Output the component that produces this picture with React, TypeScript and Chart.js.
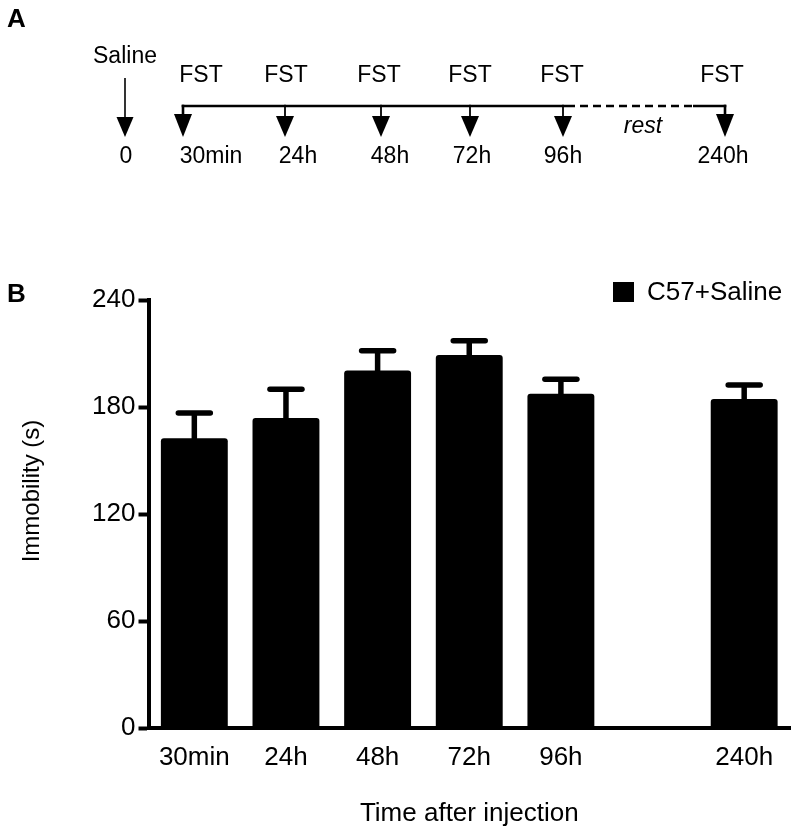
import React, { useEffect, useRef } from 'react';
import { Chart, registerables } from 'chart.js';

Chart.register(...registerables);

// ---------- Data ----------
const categories = ['30min', '24h', '48h', '72h', '96h', '', '240h'];
const immobilityMeans = [162.5, 173.8, 200.4, 209.2, 187.4, null, 184.5];
const immobilitySem = [14.1, 16.2, 11.1, 8.0, 8.1, null, 7.9];
const seriesLabel = 'C57+Saline';
const yTicks = [0, 60, 120, 180, 240];
const yTitle = 'Immobility (s)';
const xTitle = 'Time after injection';

// Panel A (protocol schematic) texts
const timelineLabels = ['30min', '24h', '48h', '72h', '96h', '240h'];
const injectionLabel = 'Saline';
const injectionTime = '0';
const testLabel = 'FST';
const restLabel = 'rest';
const panelLabels = ['A', 'B'];

// ---------- Layout / style ----------
const FONT = '"Liberation Sans", Arial, Helvetica, sans-serif';
const W = 796;
const H = 834;
const SCHEMA = {
  arrowX: [183, 285, 381, 470, 563, 725],
  fstX: [201, 286, 379, 470, 562, 722],
  timeX: [211, 298, 390, 472, 563, 723],
  salineX: 125,
  lineY: 106,
  restStart: 567,
  restEnd: 693,
};

const overlayPlugin = {
  id: 'overlay',
  afterDatasetsDraw(chart: any) {
    const { ctx } = chart;
    const meta = chart.getDatasetMeta(0);
    const y = chart.scales.y;
    ctx.save();
    ctx.strokeStyle = '#000';
    ctx.lineWidth = 5.5;
    meta.data.forEach((bar: any, i: number) => {
      const m = immobilityMeans[i];
      const s = immobilitySem[i];
      if (m == null || s == null) return;
      const yTop = y.getPixelForValue(m + s);
      const yBar = y.getPixelForValue(m);
      ctx.lineCap = 'butt';
      ctx.beginPath();
      ctx.moveTo(bar.x, yBar + 1);
      ctx.lineTo(bar.x, yTop);
      ctx.stroke();
      ctx.lineCap = 'round';
      ctx.beginPath();
      ctx.moveTo(bar.x - 16, yTop);
      ctx.lineTo(bar.x + 16, yTop);
      ctx.stroke();
    });
    ctx.restore();
  },
  afterDraw(chart: any) {
    const { ctx } = chart;
    ctx.save();
    ctx.fillStyle = '#000';
    ctx.strokeStyle = '#000';

    // Panel letters
    ctx.font = `bold 26px ${FONT}`;
    ctx.textAlign = 'left';
    ctx.textBaseline = 'alphabetic';
    ctx.fillText(panelLabels[0], 7, 27);
    ctx.fillText(panelLabels[1], 7, 302);

    // Y title
    ctx.save();
    ctx.translate(32, 491);
    ctx.rotate(-Math.PI / 2);
    ctx.font = `24px ${FONT}`;
    ctx.textAlign = 'center';
    ctx.textBaseline = 'middle';
    ctx.fillText(yTitle, 0, 0);
    ctx.restore();

    // Legend
    ctx.fillRect(613, 282, 21, 20);
    ctx.font = `26px ${FONT}`;
    ctx.textAlign = 'left';
    ctx.textBaseline = 'alphabetic';
    ctx.fillText(chart.data.datasets[0].label, 647, 300);

    // ----- Panel A schematic -----
    const drawArrow = (x: number, y0: number, yTri: number, yApex: number, hw: number, sw: number) => {
      ctx.lineWidth = sw;
      ctx.lineCap = 'butt';
      ctx.beginPath();
      ctx.moveTo(x, y0);
      ctx.lineTo(x, yTri + 1);
      ctx.stroke();
      ctx.beginPath();
      ctx.moveTo(x - hw, yTri);
      ctx.lineTo(x + hw, yTri);
      ctx.lineTo(x, yApex);
      ctx.closePath();
      ctx.fill();
    };

    ctx.font = `23px ${FONT}`;
    ctx.textAlign = 'center';
    ctx.textBaseline = 'alphabetic';
    ctx.fillText(injectionLabel, SCHEMA.salineX + 0, 63);
    ctx.fillText(injectionTime, SCHEMA.salineX + 1, 163);
    drawArrow(SCHEMA.salineX, 78, 117, 137, 8.5, 1.6);

    // timeline
    const ly = SCHEMA.lineY;
    ctx.lineWidth = 2.6;
    ctx.lineCap = 'butt';
    ctx.beginPath();
    ctx.moveTo(SCHEMA.arrowX[0] - 1.3, ly);
    ctx.lineTo(SCHEMA.restStart, ly);
    ctx.stroke();
    ctx.save();
    ctx.setLineDash([8, 5]);
    ctx.beginPath();
    ctx.moveTo(SCHEMA.restStart, ly);
    ctx.lineTo(SCHEMA.restEnd, ly);
    ctx.stroke();
    ctx.restore();
    ctx.beginPath();
    ctx.moveTo(SCHEMA.restEnd, ly);
    ctx.lineTo(SCHEMA.arrowX[5] + 1.3, ly);
    ctx.stroke();

    SCHEMA.arrowX.forEach((x, i) => {
      const first = i === 0 || i === SCHEMA.arrowX.length - 1;
      drawArrow(x, ly - 1.3, first ? 114 : 116, 137, 9, first ? 2.6 : 1.8);
      ctx.fillText(testLabel, SCHEMA.fstX[i], 82);
      ctx.fillText(timelineLabels[i], SCHEMA.timeX[i], 163);
    });

    ctx.font = `italic 23px ${FONT}`;
    ctx.fillText(restLabel, (SCHEMA.restStart + SCHEMA.restEnd) / 2 + 13, 133);

    ctx.restore();
  },
};

export default function App() {
  const canvasRef = useRef<HTMLCanvasElement | null>(null);

  useEffect(() => {
    if (!canvasRef.current) return;
    const chart = new Chart(canvasRef.current, {
      type: 'bar',
      data: {
        labels: categories,
        datasets: [
          {
            label: seriesLabel,
            data: immobilityMeans as any,
            backgroundColor: '#000',
            borderWidth: 0,
            borderRadius: 3,
            barPercentage: 0.73,
            categoryPercentage: 1.0,
          },
        ],
      },
      options: {
        responsive: false,
        maintainAspectRatio: false,
        devicePixelRatio: 1,
        animation: false,
        layout: { padding: { top: 300, right: 6, bottom: 0, left: 0 } },
        plugins: {
          legend: { display: false },
          tooltip: { enabled: false },
          title: { display: false },
        },
        scales: {
          x: {
            type: 'category',
            grid: { display: false, drawTicks: false },
            border: { display: true, color: '#000', width: 4 },
            ticks: {
              color: '#000',
              font: { family: FONT, size: 26 },
              padding: 14,
              maxRotation: 0,
              autoSkip: false,
            },
            title: {
              display: true,
              text: xTitle,
              color: '#000',
              font: { family: FONT, size: 26 },
              padding: { top: 0, bottom: 5 },
            },
            afterFit: (s: any) => {
              s.height = 106;
            },
          },
          y: {
            min: 0,
            max: 240,
            afterBuildTicks: (s: any) => {
              s.ticks = yTicks.map((v) => ({ value: v }));
            },
            grid: {
              display: true,
              drawOnChartArea: false,
              drawTicks: true,
              tickLength: 10,
              tickWidth: 4,
              tickColor: '#000',
              color: '#000',
            },
            border: { display: true, color: '#000', width: 4 },
            ticks: {
              color: '#000',
              font: { family: FONT, size: 26 },
              padding: 3,
            },
            afterFit: (s: any) => {
              s.width = 148.5;
            },
          },
        },
      },
      plugins: [overlayPlugin],
    });
    return () => chart.destroy();
  }, []);

  return (
    <div style={{ position: 'absolute', left: 0, top: 0, width: W, height: H, background: '#fff' }}>
      <canvas ref={canvasRef} width={W} height={H} style={{ display: 'block', width: W, height: H }} />
    </div>
  );
}
